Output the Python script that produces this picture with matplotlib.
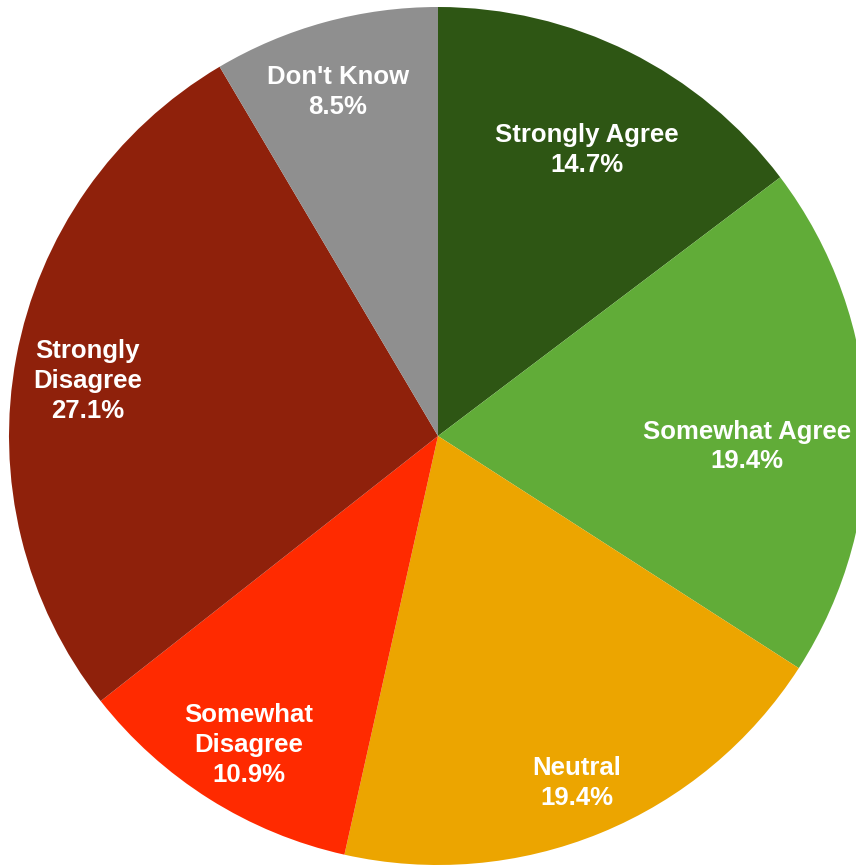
import numpy as np
import matplotlib.pyplot as plt

labels = ['Strongly Agree', 'Somewhat Agree', 'Neutral',
          'Somewhat\nDisagree', 'Strongly\nDisagree', "Don't Know"]
shares = [14.7, 19.4, 19.4, 10.9, 27.1, 8.5]
colors = ['#2e5614', '#61ac38', '#eca500', '#ff2a00', '#8f210b', '#8f8f8f']
# label placement: fraction of radius, and a small angular nudge (degrees)
label_r = [0.752, 0.72, 0.872, 0.845, 0.826, 0.835]
label_nudge = [-1.0, -4.1, -0.5, 0.7, 1.7, 0.9]

W, H = 856, 867
cx, cy, R = 438, H - 436, 429

fig = plt.figure(figsize=(W / 100, H / 100), dpi=100)
ax = fig.add_axes([0, 0, 1, 1])

ax.pie(shares, colors=colors, startangle=90, counterclock=False,
       center=(cx, cy), radius=R, wedgeprops=dict(linewidth=0))

ax.set_xlim(0, W)
ax.set_ylim(0, H)
ax.set_aspect('equal')
ax.axis('off')

# put each label near the middle angle of its wedge
ends = np.cumsum(shares)
starts = ends - np.array(shares)
for lab, s, e, r, dn, v in zip(labels, starts, ends, label_r, label_nudge, shares):
    mid = np.deg2rad(90 - (s + e) / 2 * 3.6 + dn)
    x = cx + r * R * np.cos(mid)
    y = cy + r * R * np.sin(mid)
    ax.text(x, y, f'{lab}\n{v:.1f}%', ha='center', va='center',
            multialignment='center', color='white', fontsize=18.5,
            fontweight='bold', family='Liberation Sans', linespacing=1.3)

fig.savefig('out.png', dpi=100)
